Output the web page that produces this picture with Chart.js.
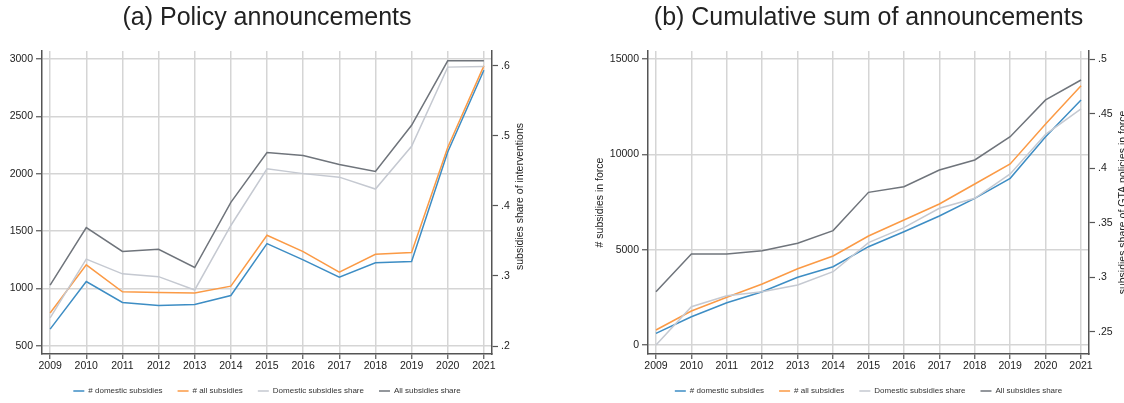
<!DOCTYPE html>
<html>
<head>
<meta charset="utf-8">
<script src="https://cdn.jsdelivr.net/npm/chart.js@4/dist/chart.umd.min.js"></script>
<style>
  html, body { margin: 0; padding: 0; background: #ffffff; }
  body { width: 1124px; height: 403px; position: relative; overflow: hidden; }
  .panel { position: absolute; top: 0; width: 562px; height: 403px; }
  #pa { left: 0; }
  #pb { left: 562px; }
</style>
</head>
<body>
<div class="panel" id="pa"><canvas id="ca" width="562" height="403"></canvas></div>
<div class="panel" id="pb"><canvas id="cb" width="562" height="403"></canvas></div>
<script>
// ---------------- data ----------------
const years = [2009, 2010, 2011, 2012, 2013, 2014, 2015, 2016, 2017, 2018, 2019, 2020, 2021];
const seriesNames = ['# domestic subsidies', '# all subsidies', 'Domestic subsidies share', 'All subsidies share'];

// (a) Policy announcements
const annDomestic = [645, 1060, 877, 851, 860, 938, 1391, 1249, 1098, 1223, 1234, 2190, 2904];
const annAll      = [785, 1205, 970, 964, 959, 1020, 1464, 1321, 1141, 1298, 1313, 2230, 2942];
const annDomShare = [0.240, 0.324, 0.303, 0.299, 0.280, 0.372, 0.453, 0.446, 0.441, 0.424, 0.485, 0.598, 0.599];
const annAllShare = [0.287, 0.369, 0.335, 0.338, 0.312, 0.405, 0.476, 0.472, 0.459, 0.449, 0.515, 0.607, 0.607];

// (b) Cumulative sum of announcements
const cumDomestic = [614, 1486, 2220, 2798, 3553, 4110, 5160, 5947, 6771, 7700, 8750, 10934, 12860];
const cumAll      = [787, 1785, 2504, 3202, 4005, 4672, 5722, 6561, 7401, 8451, 9501, 11600, 13611];
const cumDomShare = [0.2378, 0.2729, 0.2830, 0.2867, 0.2928, 0.3050, 0.3317, 0.3454, 0.3632, 0.3724, 0.3947, 0.4311, 0.4543];
const cumAllShare = [0.2867, 0.3213, 0.3213, 0.3243, 0.3311, 0.3427, 0.3778, 0.3830, 0.3983, 0.4075, 0.4289, 0.4626, 0.4809];

// tick values
const yearTicks   = [2009, 2010, 2011, 2012, 2013, 2014, 2015, 2016, 2017, 2018, 2019, 2020, 2021];
const leftTicksA  = [500, 1000, 1500, 2000, 2500, 3000];
const rightTicksA = [0.2, 0.3, 0.4, 0.5, 0.6];
const leftTicksB  = [0, 5000, 10000, 15000];
const rightTicksB = [0.25, 0.3, 0.35, 0.4, 0.45, 0.5];

// ---------------- style ----------------
const COLORS = ['#3d8dc4', '#fb9a45', '#c5c9d1', '#6f747b'];
const FONT = '"Liberation Sans", Arial, Helvetica, sans-serif';
const AXIS = '#555555';
const GRID = '#d5d5d5';
const TXT = '#222222';

function pts(vals) { return years.map((yr, i) => ({ x: yr, y: vals[i] })); }
function shareLabel(v) { return parseFloat(v.toFixed(2)).toString().replace(/^0\./, '.'); }

function makeVTitle(items) {
  return {
    id: 'vTitle',
    afterDraw(chart) {
      const ctx = chart.ctx;
      const ca = chart.chartArea;
      items.forEach(it => {
        const sc = chart.scales[it.scale];
        ctx.save();
        ctx.font = '10.5px ' + FONT;
        ctx.fillStyle = TXT;
        ctx.textAlign = 'center';
        ctx.textBaseline = 'middle';
        ctx.translate(sc.left + it.dx, (ca.top + ca.bottom) / 2 + (it.dy || 0));
        ctx.rotate(-Math.PI / 2);
        ctx.fillText(it.text, 0, 0);
        ctx.restore();
      });
    }
  };
}

function buildChart(canvasId, cfg) {
  const datasets = [
    { label: seriesNames[0], data: pts(cfg.dom), yAxisID: 'y',  borderColor: COLORS[0], order: 3 },
    { label: seriesNames[1], data: pts(cfg.all), yAxisID: 'y',  borderColor: COLORS[1], order: 2 },
    { label: seriesNames[2], data: pts(cfg.domShare), yAxisID: 'y1', borderColor: COLORS[2], order: 1 },
    { label: seriesNames[3], data: pts(cfg.allShare), yAxisID: 'y1', borderColor: COLORS[3], order: 0 }
  ].map(d => Object.assign(d, {
    backgroundColor: d.borderColor, borderWidth: 1.5, pointRadius: 0, pointHoverRadius: 0,
    tension: 0, fill: false
  }));

  return new Chart(document.getElementById(canvasId), {
    type: 'line',
    data: { datasets },
    plugins: [makeVTitle(cfg.vtitles)],
    options: {
      responsive: false,
      animation: false,
      events: [],
      layout: { padding: { top: 0, left: 0, right: 0, bottom: 7 } },
      plugins: {
        tooltip: { enabled: false },
        title: {
          display: true, text: cfg.title, fullSize: false, color: TXT,
          font: { family: FONT, size: 25, weight: 'normal' },
          padding: { top: 3, bottom: 18 }
        },
        legend: {
          display: true, position: 'bottom', fullSize: false, reverse: true, maxHeight: 24,
          labels: {
            usePointStyle: true, pointStyle: 'line', pointStyleWidth: 11,
            color: '#333', padding: 15, font: { family: FONT, size: 8 }
          }
        }
      },
      scales: {
        x: {
          type: 'linear', min: 2008.775, max: 2021.225,
          afterBuildTicks: s => { s.ticks = yearTicks.map(v => ({ value: v })); },
          afterFit: s => { s.height = 18; },
          ticks: { callback: v => String(v), color: TXT, font: { family: FONT, size: 10.5 }, padding: 1, autoSkip: false, maxRotation: 0 },
          grid: { color: GRID, lineWidth: 1.5, tickColor: AXIS, tickLength: 5, tickWidth: 1.2 },
          border: { color: AXIS, width: 1.5 }
        },
        y: {
          type: 'linear', position: 'left', min: cfg.yMin, max: cfg.yMax,
          afterBuildTicks: s => { s.ticks = cfg.leftTicks.map(v => ({ value: v })); },
          afterFit: s => { s.width = cfg.leftW; },
          ticks: { callback: v => String(v), color: TXT, font: { family: FONT, size: 10.5 }, padding: 3 },
          grid: { color: GRID, lineWidth: 1.5, tickColor: AXIS, tickLength: 6, tickWidth: 1.2 },
          border: { color: AXIS, width: 1.5 }
        },
        y1: {
          type: 'linear', position: 'right', min: cfg.y1Min, max: cfg.y1Max,
          afterBuildTicks: s => { s.ticks = cfg.rightTicks.map(v => ({ value: v })); },
          afterFit: s => { s.width = cfg.rightW; },
          ticks: { callback: v => shareLabel(v), color: TXT, font: { family: FONT, size: 10.5 }, padding: 3 },
          grid: { drawOnChartArea: false, tickColor: AXIS, tickLength: 6, tickWidth: 1.2 },
          border: { color: AXIS, width: 1.5 }
        }
      }
    }
  });
}

buildChart('ca', {
  title: '(a) Policy announcements',
  dom: annDomestic, all: annAll, domShare: annDomShare, allShare: annAllShare,
  yMin: 427.5, yMax: 3072, y1Min: 0.1886, y1Max: 0.621,
  leftTicks: leftTicksA, rightTicks: rightTicksA,
  leftW: 42, rightW: 70,
  vtitles: [{ scale: 'y1', dx: 28, dy: -6, text: 'subsidies share of interventions' }]
});

buildChart('cb', {
  title: '(b) Cumulative sum of announcements',
  dom: cumDomestic, all: cumAll, domShare: cumDomShare, allShare: cumAllShare,
  yMin: -472, yMax: 15433, y1Min: 0.2295, y1Max: 0.5075,
  leftTicks: leftTicksB, rightTicks: rightTicksB,
  leftW: 86, rightW: 35,
  vtitles: [
    { scale: 'y', dx: 38, dy: 0, text: '# subsidies in force' },
    { scale: 'y1', dx: 34, dy: 0, text: 'subsidies share of GTA policies in force' }
  ]
});
</script>
</body>
</html>
